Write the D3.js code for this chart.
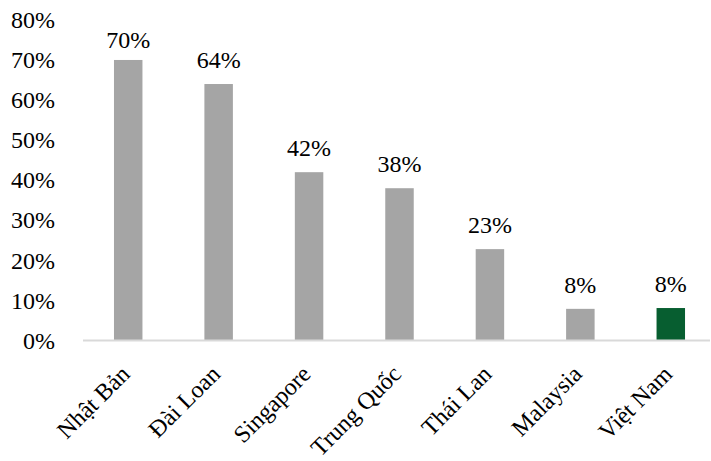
<!DOCTYPE html>
<html>
<head>
<meta charset="utf-8">
<script src="https://cdn.jsdelivr.net/npm/d3@7"></script>
<style>
  html, body { margin: 0; padding: 0; background: #fff; }
  svg { display: block; }
  text { font-family: "Liberation Serif", "Times New Roman", serif; fill: #000; }
</style>
</head>
<body>
<svg id="chart" width="711" height="461"></svg>
<script>
// Share by country (fraction of 1)
const countries = ["Nhật Bản", "Đài Loan", "Singapore", "Trung Quốc", "Thái Lan", "Malaysia", "Việt Nam"];
const shares = [0.70, 0.64, 0.42, 0.38, 0.228, 0.079, 0.081];
const highlight = "Việt Nam";
const yTicks = [0, 0.1, 0.2, 0.3, 0.4, 0.5, 0.6, 0.7, 0.8];

const svg = d3.select("#chart");
const width = 711, height = 461;
const margin = { left: 83, right: -5, top: 20, bottom: 120 };
const fontSize = 24;
const catFontSize = 24;
const serif = "'Liberation Serif', 'Times New Roman', serif";

const x = d3.scaleBand()
  .domain(countries)
  .range([margin.left, width - margin.right])
  .paddingInner(0.685)
  .paddingOuter(0.3425);

const y = d3.scaleLinear()
  .domain([0, 0.8])
  .range([340.5, 19.9]);

const pct = d3.format(".0%");

// Y axis labels (no axis line, no ticks)
const yAxis = d3.axisLeft(y).tickValues(yTicks).tickFormat(pct).tickSize(0).tickPadding(0);
const gy = svg.append("g").attr("transform", "translate(55,0)").call(yAxis);
gy.select(".domain").remove();
gy.selectAll("text")
  .style("font-size", fontSize + "px")
  .style("font-family", serif)
  .attr("fill", "#000");

// Bars
svg.append("g").selectAll("rect")
  .data(countries)
  .join("rect")
  .attr("x", d => x(d))
  .attr("width", x.bandwidth())
  .attr("y", (d, i) => y(shares[i]))
  .attr("height", (d, i) => y(0) - y(shares[i]))
  .attr("fill", d => d === highlight ? "#075e30" : "#a5a5a5");

// Category axis line
svg.append("line")
  .attr("x1", margin.left).attr("x2", 710)
  .attr("y1", y(0)).attr("y2", y(0))
  .attr("stroke", "#d9d9d9").attr("stroke-width", 2);

// Value labels above bars (kept inside the plot top)
svg.append("g").selectAll("text")
  .data(countries)
  .join("text")
  .attr("x", d => x(d) + x.bandwidth() / 2)
  .attr("y", (d, i) => Math.max(y(shares[i]) - 16, 48))
  .attr("text-anchor", "middle")
  .style("font-size", fontSize + "px")
  .text((d, i) => pct(shares[i]));

// Rotated category labels
const xAxis = d3.axisBottom(x).tickSize(0).tickPadding(0);
const gx = svg.append("g").attr("transform", `translate(0,${y(0)})`).call(xAxis);
gx.select(".domain").remove();
gx.selectAll("text")
  .style("font-size", catFontSize + "px")
  .style("font-family", serif)
  .attr("fill", "#000")
  .attr("text-anchor", "end")
  .attr("dy", "0")
  .attr("y", 0)
  .attr("transform", "translate(3,35) rotate(-45)");
</script>
</body>
</html>
